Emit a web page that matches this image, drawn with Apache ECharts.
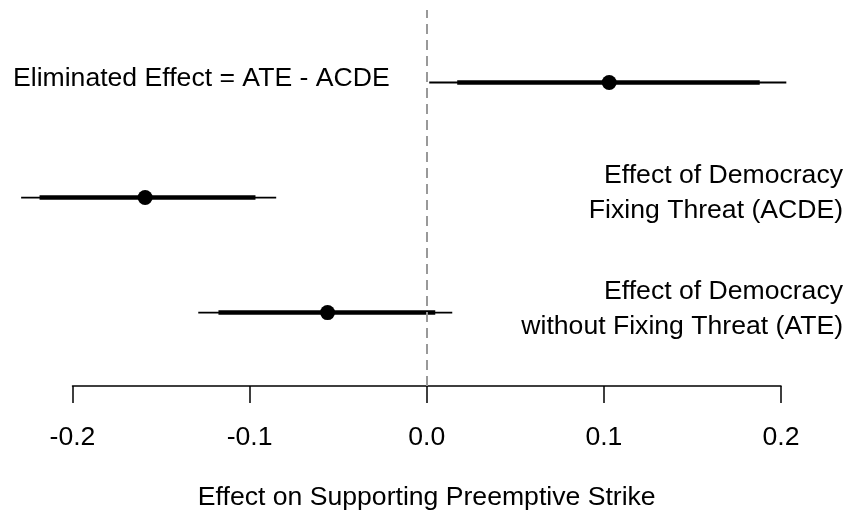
<!DOCTYPE html>
<html>
<head>
<meta charset="utf-8">
<script src="https://cdn.jsdelivr.net/npm/echarts@6/dist/echarts.min.js"></script>
<style>html,body{margin:0;padding:0;background:#fff}#c{width:855px;height:516px}</style>
</head>
<body>
<div id="c"></div>
<script>
// Data (rows from top to bottom)
var rowNames = ["Eliminated Effect = ATE - ACDE", "Effect of Democracy\nFixing Threat (ACDE)", "Effect of Democracy\nwithout Fixing Threat (ATE)"];
var rowPos = [3, 2, 1];
var estimate = [0.103, -0.159, -0.056];
var lower95 = [0.0014, -0.229, -0.129];
var upper95 = [0.203, -0.085, 0.0144];
var lower90 = [0.0172, -0.2186, -0.1176];
var upper90 = [0.188, -0.0967, 0.0048];
var xTicks = [-0.2, -0.1, 0.0, 0.1, 0.2];

var FONT = "'Liberation Sans', Arial, Helvetica, sans-serif";
var FS = 26.6;
var chart = echarts.init(document.getElementById('c'), null, {renderer: 'canvas'});

var data = rowPos.map(function (p, i) {
  return [p, estimate[i], lower95[i], upper95[i], lower90[i], upper90[i]];
});

function labelLines(name, x, y, lh) {
  return name.split('\n').map(function (t, k) {
    return {type: 'text', x: x, y: y + k * lh, style: {text: t, font: FS + 'px ' + FONT, fill: '#000', align: 'right', verticalAlign: 'middle'}};
  });
}

chart.setOption({
  animation: false,
  backgroundColor: '#ffffff',
  grid: {left: 72.5, right: 74, top: 10, bottom: 128, containLabel: false},
  xAxis: {
    type: 'value', min: -0.2, max: 0.2, interval: 0.1,
    axisLine: {show: true, lineStyle: {color: '#000', width: 1.5}},
    axisTick: {show: true, length: 17, lineStyle: {color: '#000', width: 1.5}},
    splitLine: {show: false},
    axisLabel: {
      color: '#000', fontSize: FS, fontFamily: FONT, margin: 38,
      formatter: function (v) { return v.toFixed(1); }
    },
    name: 'Effect on Supporting Preemptive Strike',
    nameLocation: 'middle', nameGap: 98,
    nameTextStyle: {color: '#000', fontSize: FS, fontFamily: FONT}
  },
  yAxis: {
    type: 'value', min: 0.362, max: 3.63,
    show: false
  },
  series: [{
    type: 'custom',
    clip: false,
    data: data,
    renderItem: function (params, api) {
      var y = api.value(0);
      var e = api.coord([api.value(1), y]);
      var l95 = api.coord([api.value(2), y]);
      var u95 = api.coord([api.value(3), y]);
      var l90 = api.coord([api.value(4), y]);
      var u90 = api.coord([api.value(5), y]);
      return {
        type: 'group',
        children: [
          {type: 'line', shape: {x1: l95[0], y1: l95[1], x2: u95[0], y2: u95[1]}, style: {stroke: '#000', lineWidth: 1.8}},
          {type: 'line', shape: {x1: l90[0], y1: l90[1], x2: u90[0], y2: u90[1]}, style: {stroke: '#000', lineWidth: 4.5}},
          {type: 'circle', shape: {cx: e[0], cy: e[1], r: 7.5}, style: {fill: '#000'}}
        ]
      };
    },
    markLine: {
      silent: true, symbol: 'none', label: {show: false},
      lineStyle: {color: '#999', type: [10, 6], width: 2},
      data: [{xAxis: 0}]
    },
    z: 3
  }],
  graphic: [
    {type: 'text', x: 13, y: 79, style: {text: rowNames[0], font: FS + 'px ' + FONT, fill: '#000', verticalAlign: 'middle'}}
  ].concat(labelLines(rowNames[1], 843, 176, 35)).concat(labelLines(rowNames[2], 843, 292, 35))
});
</script>
</body>
</html>
